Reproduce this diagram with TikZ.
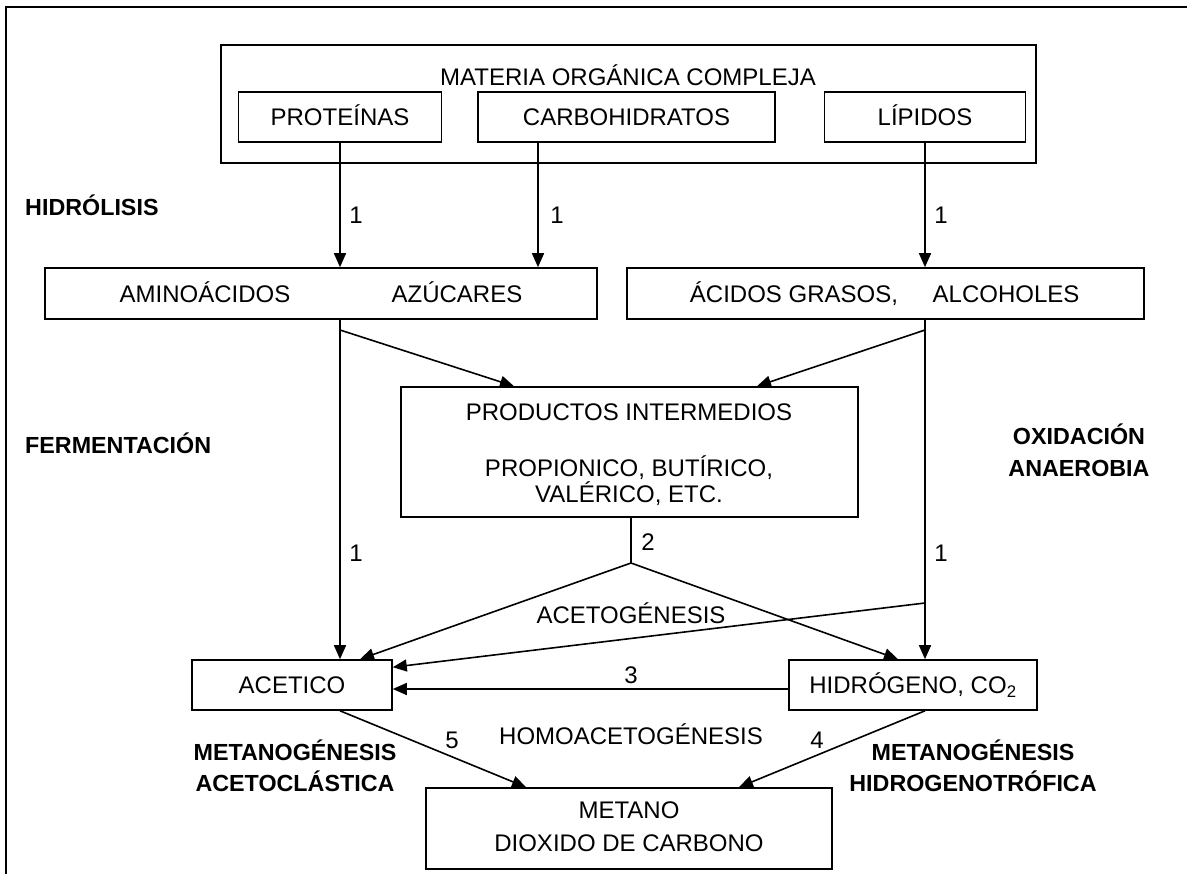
\documentclass[tikz,border=0pt]{standalone}
\usepackage{fontspec}
\setmainfont{Liberation Sans}
\usetikzlibrary{arrows.meta}
\begin{document}
\begin{tikzpicture}[x=1pt,y=-1pt,
  box/.style={draw=black, line width=1.6pt, inner sep=0pt},
  txt/.style={inner sep=0pt, text height=17.2pt, text depth=0pt, font=\fontsize{24}{28}\selectfont},
  btxt/.style={inner sep=0pt, text height=16.7pt, text depth=0pt, font=\fontsize{23.3}{28}\selectfont\bfseries},
  ln/.style={line width=1.6pt},
  arr/.style={line width=1.6pt, -{Triangle[length=14pt,width=12pt]}}
]
\useasboundingbox (0,0) rectangle (1187,874);
% frame
\draw[line width=2pt] (6,874) -- (6,7) -- (1187,7);

% boxes
\node[box, minimum width=815pt, minimum height=118pt] (mat) at (628.5,104) {};
\node[txt] (mattxt) at (628,77) {MATERIA ORGÁNICA COMPLEJA};
\node[box, minimum width=203pt, minimum height=50pt] (prot) at (340,117) {};
\node[txt] at (prot) {PROTEÍNAS};
\node[box, minimum width=297pt, minimum height=50pt] (carb) at (626.5,117) {};
\node[txt] at (carb) {CARBOHIDRATOS};
\node[box, minimum width=201pt, minimum height=50pt] (lip) at (925,117) {};
\node[txt] at (lip) {LÍPIDOS};

\node[box, minimum width=552pt, minimum height=51pt] (amino) at (321,293.5) {};
\node[txt] (aminotxt) at (205,293.5) {AMINOÁCIDOS};
\node[txt] (azutxt) at (457,293.5) {AZÚCARES};
\node[box, minimum width=517pt, minimum height=51pt] (acid) at (885.5,293.5) {};
\node[txt] (acidtxt) at (794,293.5) {ÁCIDOS GRASOS,};
\node[txt] (alctxt) at (1006,293.5) {ALCOHOLES};

\node[box, minimum width=457pt, minimum height=130pt] (prod) at (629.5,452) {};
\node[txt] (prod1) at (629,412) {PRODUCTOS INTERMEDIOS};
\node[txt] (prod2) at (629,468) {PROPIONICO, BUTÍRICO,};
\node[txt] (prod3) at (629,494) {VALÉRICO, ETC.};

\node[box, minimum width=200pt, minimum height=50pt] (acet) at (292,685) {};
\node[txt] at (acet) {ACETICO};
\node[box, minimum width=248pt, minimum height=50pt] (hidr) at (913,685) {};
\node[txt] at (hidr) {HIDRÓGENO, CO\textsubscript{2}};

\node[box, minimum width=406pt, minimum height=81pt] (met) at (629,828.5) {};
\node[txt] (met1) at (629,810) {METANO};
\node[txt] (met2) at (629,843) {DIOXIDO DE CARBONO};

% stage labels
\node[btxt, anchor=west] (hidrol) at (25,207) {HIDRÓLISIS};
\node[btxt, anchor=west] (ferm) at (25,445) {FERMENTACIÓN};
\node[btxt] (oxi1) at (1079,436) {OXIDACIÓN};
\node[btxt] (oxi2) at (1079,468) {ANAEROBIA};
\node[btxt] (mac1) at (295,752) {METANOGÉNESIS};
\node[btxt] (mac2) at (295,783) {ACETOCLÁSTICA};
\node[btxt] (mhi1) at (973,752) {METANOGÉNESIS};
\node[btxt] (mhi2) at (973,783) {HIDROGENOTRÓFICA};
\node[txt] (acetog) at (631,615) {ACETOGÉNESIS};
\node[txt] (homo) at (631,736) {HOMOACETOGÉNESIS};

% numbers
\node[txt] (n1a) at (356,215) {1};
\node[txt] (n1b) at (557,215) {1};
\node[txt] (n1c) at (941,215) {1};
\node[txt] (n1d) at (356,553) {1};
\node[txt] (n1e) at (941,553) {1};
\node[txt] (n2) at (648,542) {2};
\node[txt] (n3) at (631,675) {3};
\node[txt] (n5) at (452,740) {5};
\node[txt] (n4) at (817,740) {4};

% coordinates
\coordinate (apex) at (631,563);
\coordinate (lsplit) at (340,330);
\coordinate (rsplit) at (925,330);
\coordinate (rjoin) at (925,603);

% hydrolysis arrows
\draw[arr] (prot.south) -- (prot.south |- amino.north);
\draw[arr] (carb.south -| 538,0) -- (538,0 |- amino.north);
\draw[arr] (lip.south) -- (lip.south |- acid.north);

% fermentation
\draw[arr] (340,0 |- amino.south) -- (340,0 |- acet.north);
\draw[arr] (lsplit) -- (514,0 |- prod.north);
\draw[arr] (925,0 |- acid.south) -- (925,0 |- hidr.north);
\draw[arr] (rsplit) -- (757,0 |- prod.north);

% acetogenesis
\draw[ln] (631,0 |- prod.south) -- (apex);
\draw[arr] (apex) -- (360,0 |- acet.north);
\draw[arr] (apex) -- (898,0 |- hidr.north);
\draw[arr] (rjoin) -- ([yshift=-8pt]acet.north east);

% homoacetogenesis
\draw[arr] ([yshift=-4pt]hidr.west) -- ([yshift=-4pt]acet.east);

% methanogenesis
\draw[arr] (340,0 |- acet.south) -- (526,0 |- met.north);
\draw[arr] (925,0 |- hidr.south) -- (739,0 |- met.north);
\end{tikzpicture}
\end{document}
